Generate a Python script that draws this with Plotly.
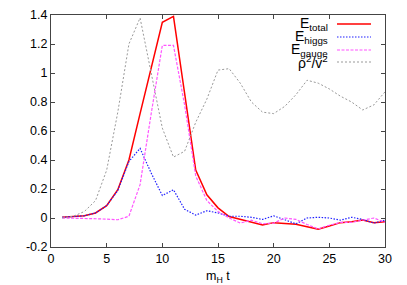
import plotly.graph_objects as go

t = list(range(1, 31))
e_total = [0.005, 0.01, 0.015, 0.035, 0.085, 0.195, 0.40, 0.72, 1.03, 1.35,
           1.39, 0.86, 0.33, 0.16, 0.07, 0.01, -0.01, -0.03, -0.048, -0.032,
           -0.035, -0.043, -0.06, -0.078, -0.055, -0.032, -0.025, -0.014, -0.032, -0.025]
e_higgs = [0.005, 0.01, 0.015, 0.035, 0.085, 0.19, 0.39, 0.48, 0.31, 0.155,
           0.195, 0.06, 0.02, 0.05, 0.035, 0.012, 0.012, 0.005, -0.01, 0.015,
           -0.01, -0.04, 0.0, 0.005, 0.0, -0.015, 0.005, -0.01, -0.035, -0.015]
e_gauge = [0.0, 0.0, -0.003, -0.005, -0.008, -0.012, 0.012, 0.23, 0.72, 1.19,
           1.19, 0.78, 0.29, 0.12, 0.045, 0.0, -0.035, -0.015, -0.04, -0.035,
           0.0, -0.01, -0.045, -0.075, -0.05, -0.03, -0.03, -0.015, 0.0, -0.03]
rho = [0.0, 0.012, 0.045, 0.12, 0.33, 0.73, 1.2, 1.38, 1.0, 0.62,
       0.42, 0.46, 0.66, 0.82, 1.02, 1.03, 0.93, 0.80, 0.73, 0.72,
       0.77, 0.85, 0.95, 0.93, 0.89, 0.84, 0.80, 0.745, 0.78, 0.87]

series_names = ["E<sub>total</sub>", "E<sub>higgs</sub>", "E<sub>gauge</sub>", "ρ<sup>2</sup>/v<sup>2</sup>"]
series_data = [e_total, e_higgs, e_gauge, rho]
colors = ["#ff0000", "#2020ff", "#ff55ff", "#999999"]
dashes = ["solid", "1.5px,1.5px", "3px,1.5px", "2px,2px"]
widths = [1.5, 1.2, 1.2, 1.0]
xticks = [0, 5, 10, 15, 20, 25, 30]
yticks = [-0.2, 0, 0.2, 0.4, 0.6, 0.8, 1.0, 1.2, 1.4]
ytick_labels = ["-0.2", "0", "0.2", "0.4", "0.6", "0.8", "1", "1.2", "1.4"]

fig = go.Figure()
for name, ys, c, d, w in zip(series_names, series_data, colors, dashes, widths):
    fig.add_trace(go.Scatter(x=t, y=ys, mode="lines", name=name,
                             line=dict(color=c, dash=d, width=w), showlegend=False))

font = dict(family="Liberation Sans, Arial, sans-serif", size=12.5, color="#000")
axis_common = dict(showgrid=False, zeroline=False, showline=True, linecolor="#444",
                   linewidth=1, mirror="ticks", ticks="inside", ticklen=4,
                   tickcolor="#444", tickfont=font, automargin=False)

H, W = 285, 407
pt, pb, pl, pr = 15, 38, 51, 22
ph = H - pt - pb
pw = W - pl - pr

fig.update_layout(
    width=W, height=H,
    margin=dict(l=pl, r=pr, t=pt, b=pb),
    paper_bgcolor="white", plot_bgcolor="white",
    font=font,
    xaxis=dict(range=[0, 30], tickvals=xticks, **axis_common),
    yaxis=dict(range=[-0.2, 1.4], tickvals=yticks, ticktext=ytick_labels, **axis_common),
)

# x-axis title
fig.add_annotation(x=0.5, y=-(277 - (H - pb)) / ph, xref="paper", yref="paper",
                   text="m<sub>H</sub> t", showarrow=False, xanchor="center", yanchor="middle",
                   font=font)

# gnuplot-style key: text right-aligned, line sample to the right
row_y = [24, 37, 50, 62]
for name, c, d, w, ry in zip(series_names, colors, dashes, widths, row_y):
    yp = 1 - (ry - pt) / ph
    fig.add_annotation(x=(330 - pl) / pw, y=yp, xref="paper", yref="paper",
                       text=name, showarrow=False, xanchor="right", yanchor="middle",
                       font=dict(family=font["family"], size=14, color="#000"))
    fig.add_shape(type="line", xref="paper", yref="paper",
                  x0=(337 - pl) / pw, x1=(371 - pl) / pw, y0=yp, y1=yp,
                  line=dict(color=c, dash=d, width=w))

fig.write_html("out.html", config={"displayModeBar": False},
               post_script="document.body.style.margin='0';document.body.style.overflow='hidden';")
